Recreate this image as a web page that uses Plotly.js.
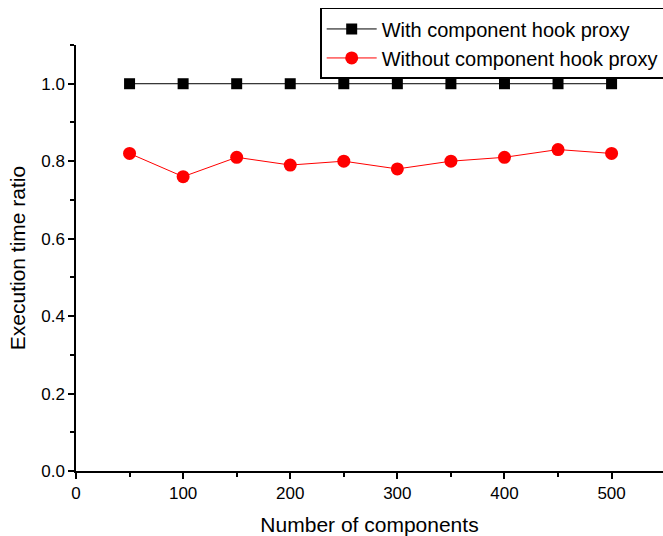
<!DOCTYPE html>
<html><head><meta charset="utf-8">
<script src="https://cdn.plot.ly/plotly-3.0.1.min.js"></script>
<style>html,body{margin:0;padding:0;background:#fff}#chart{width:663px;height:536px}</style>
</head><body><div id="chart"></div>
<script>
var components = [50, 100, 150, 200, 250, 300, 350, 400, 450, 500];
var withProxy = [1.0, 1.0, 1.0, 1.0, 1.0, 1.0, 1.0, 1.0, 1.0, 1.0];
var withoutProxy = [0.82, 0.76, 0.81, 0.79, 0.80, 0.78, 0.80, 0.81, 0.83, 0.82];
var seriesNames = ['With component hook proxy', 'Without component hook proxy'];

var traces = [
  {x: components, y: withProxy, name: seriesNames[0], type: 'scatter', mode: 'lines+markers',
   line: {color: '#000000', width: 1}, marker: {symbol: 'square', size: 11, color: '#000000'}},
  {x: components, y: withoutProxy, name: seriesNames[1], type: 'scatter', mode: 'lines+markers',
   line: {color: '#ff0000', width: 1}, marker: {symbol: 'circle', size: 13, color: '#ff0000'}}
];
var fam = 'Arial, Liberation Sans, sans-serif';
var axisFont = {family: fam, size: 17, color: '#000'};
var layout = {
  width: 663, height: 536,
  margin: {l: 76, r: 0, t: 45, b: 65, autoexpand: false},
  paper_bgcolor: '#fff', plot_bgcolor: '#fff',
  showlegend: true,
  legend: {x: 0.416, y: 1.087, xanchor: 'left', yanchor: 'top', bgcolor: '#fff',
           bordercolor: '#000', borderwidth: 1.5,
           font: {family: fam, size: 20, color: '#000'},
           tracegroupgap: 0, itemwidth: 50},
  xaxis: {range: [0, 548], tickvals: [0,100,200,300,400,500], ticktext: ['0','100','200','300','400','500'],
          ticks: 'outside', ticklen: 6, tickwidth: 1.5, tickcolor: '#000',
          minor: {dtick: 50, tick0: 0, ticks: 'outside', ticklen: 4, tickwidth: 1.5, tickcolor: '#000'},
          showline: true, linecolor: '#000', linewidth: 1.5, showgrid: false, zeroline: false,
          tickfont: axisFont,
          title: {text: 'Number of components', font: {family: fam, size: 21, color: '#000'}, standoff: 16}},
  yaxis: {range: [0, 1.1], tickvals: [0,0.2,0.4,0.6,0.8,1.0], ticktext: ['0.0','0.2','0.4','0.6','0.8','1.0'],
          ticks: 'outside', ticklen: 6, tickwidth: 1.5, tickcolor: '#000',
          minor: {dtick: 0.1, tick0: 0, ticks: 'outside', ticklen: 4, tickwidth: 1.5, tickcolor: '#000'},
          showline: true, linecolor: '#000', linewidth: 1.5, showgrid: false, zeroline: false,
          tickfont: axisFont,
          title: {text: 'Execution time ratio', font: {family: fam, size: 21, color: '#000'}, standoff: 10}}
};
Plotly.newPlot('chart', traces, layout, {displayModeBar: false});
</script></body></html>
